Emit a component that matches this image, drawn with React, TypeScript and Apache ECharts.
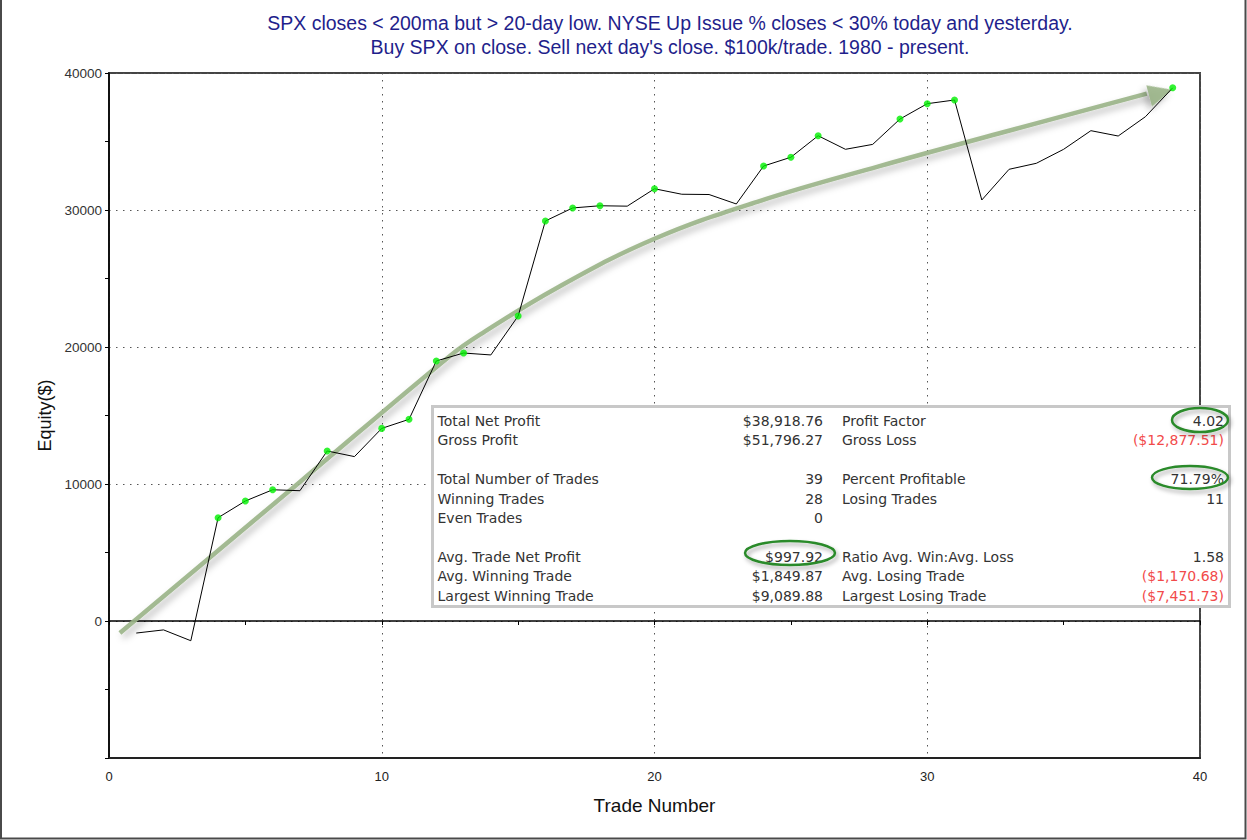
import React, { useEffect, useRef } from 'react';
import * as echarts from 'echarts';

// ---------- data ----------
const titleLine1 = 'SPX closes < 200ma but > 20-day low. NYSE Up Issue % closes < 30% today and yesterday.';
const titleLine2 = "Buy SPX on close. Sell next day's close. $100k/trade. 1980 - present.";

const equity = [
  -880, -650, -1440, 7540, 8760, 9580, 9510, 12410, 12000, 14060,
  14720, 18980, 19560, 19420, 22260, 29200, 30150, 30310, 30280, 31550,
  31150, 31130, 30440, 33210, 33850, 35420, 34430, 34790, 36640, 37760,
  38030, 30730, 32970, 33410, 34430, 35790, 35400, 36810, 38920,
];

// hand-drawn trend arrow (in data units)
const arrowX = [0.4, 7.0, 12.5, 13.6, 16.5, 20.0, 23.85, 28.25, 32.65, 38.05];
const arrowY = [-880, 10150, 19350, 20900, 24400, 27900, 30650, 33200, 35600, 38500];
const arrowHead = [38.56, 38550];

const statLabelsLeft = [
  'Total Net Profit', 'Gross Profit', '',
  'Total Number of Trades', 'Winning Trades', 'Even Trades', '',
  'Avg. Trade Net Profit', 'Avg. Winning Trade', 'Largest Winning Trade',
];
const statValuesLeft = [
  '$38,918.76', '$51,796.27', '',
  '39', '28', '0', '',
  '$997.92', '$1,849.87', '$9,089.88',
];
const statLabelsRight = [
  'Profit Factor', 'Gross Loss', '',
  'Percent Profitable', 'Losing Trades', '', '',
  'Ratio Avg. Win:Avg. Loss', 'Avg. Losing Trade', 'Largest Losing Trade',
];
const statValuesRight = [
  '4.02', '($12,877.51)', '',
  '71.79%', '11', '', '',
  '1.58', '($1,170.68)', '($7,451.73)',
];

// ---------- styling ----------
const AX_FONT = '"Liberation Sans", Arial, sans-serif';
const BOX_FONT = '"DejaVu Sans", Verdana, sans-serif';
const dotted = { color: '#555', width: 1, type: [1.5, 5.5] as number[] };
const arrowColor = '#9ab487';

function buildOption() {
  const lineData = equity.map((v, i) => [i + 1, v]);
  let peak = 0;
  const highs: number[][] = [];
  equity.forEach((v, i) => {
    if (v > peak) {
      peak = v;
      highs.push([i + 1, v]);
    }
  });
  const arrowData = arrowX.map((x, i) => [x, arrowY[i]]);

  const rowY0 = 421;
  const rowStep = 19.4;
  const texts: any[] = [];
  statLabelsLeft.forEach((t, i) => {
    const y = rowY0 + i * rowStep;
    const mk = (text: string, x: number, align: string) => {
      if (!text) return;
      texts.push({
        type: 'text',
        z: 101,
        style: {
          text,
          x,
          y,
          align,
          verticalAlign: 'middle',
          fontFamily: BOX_FONT,
          fontSize: 14,
          fill: text.startsWith('(') ? '#f24a4a' : '#333',
        },
      });
    };
    mk(t, 437.5, 'left');
    mk(statValuesLeft[i], 823, 'right');
    mk(statLabelsRight[i], 842, 'left');
    mk(statValuesRight[i], 1224, 'right');
  });

  const ellipseStyle = {
    fill: 'none',
    stroke: '#2a8a2a',
    lineWidth: 2.5,
    shadowBlur: 4,
    shadowColor: 'rgba(0,0,0,0.35)',
    shadowOffsetX: 2,
    shadowOffsetY: 3,
  };

  return {
    animation: false,
    backgroundColor: '#fff',
    title: {
      text: titleLine1 + '\n' + titleLine2,
      left: 665,
      top: 6,
      textAlign: 'center',
      textStyle: {
        fontFamily: AX_FONT,
        fontSize: 19.5,
        fontWeight: 'normal',
        color: '#1f1f8c',
        lineHeight: 24,
      },
    },
    grid: {
      left: 109,
      right: 47,
      top: 73,
      bottom: 82,
      show: true,
      borderColor: '#444',
      borderWidth: 2,
      backgroundColor: 'transparent',
    },
    xAxis: [
      {
        type: 'value',
        min: 0,
        max: 40,
        interval: 10,
        position: 'bottom',
        axisLine: { show: true, onZero: false, lineStyle: { color: '#222', width: 2 } },
        axisTick: { show: false },
        axisLabel: { fontFamily: AX_FONT, fontSize: 13, color: '#222', margin: 12 },
        splitLine: { show: true, lineStyle: dotted },
        name: 'Trade Number',
        nameLocation: 'middle',
        nameGap: 38,
        nameTextStyle: { fontFamily: AX_FONT, fontSize: 19, color: '#111' },
      },
      {
        type: 'value',
        min: 0,
        max: 40,
        interval: 5,
        position: 'bottom',
        axisLine: { show: true, onZero: true, lineStyle: { color: '#000', width: 1.5 } },
        axisTick: { show: true, length: 4, lineStyle: { color: '#000' } },
        axisLabel: { show: false },
        splitLine: { show: false },
      },
    ],
    yAxis: {
      type: 'value',
      min: -10000,
      max: 40000,
      interval: 10000,
      axisLine: { show: true, onZero: false, lineStyle: { color: '#000', width: 1.5 } },
      axisTick: { show: true, length: 4, lineStyle: { color: '#000' } },
      minorTick: { show: true, splitNumber: 2, length: 4, lineStyle: { color: '#000' } },
      axisLabel: {
        fontFamily: AX_FONT,
        fontSize: 13.5,
        color: '#333',
        margin: 7,
        formatter: (v: number) => (v < 0 ? '' : String(v)),
      },
      splitLine: { show: true, lineStyle: dotted },
      name: 'Equity($)',
      nameLocation: 'middle',
      nameGap: 55,
      nameTextStyle: { fontFamily: AX_FONT, fontSize: 18, color: '#111' },
    },
    series: [
      {
        type: 'line',
        name: 'trend',
        data: arrowData,
        smooth: 0.4,
        symbol: 'none',
        z: 1,
        lineStyle: {
          color: arrowColor,
          width: 4.5,
          opacity: 0.9,
          shadowBlur: 7,
          shadowColor: 'rgba(0,0,0,0.3)',
          shadowOffsetX: 3,
          shadowOffsetY: 4,
        },
        silent: true,
      },
      {
        type: 'scatter',
        name: 'arrowhead',
        data: [arrowHead],
        symbol: 'triangle',
        symbolSize: [22, 24],
        symbolRotate: -75,
        z: 1,
        itemStyle: {
          color: arrowColor,
          opacity: 0.9,
          shadowBlur: 7,
          shadowColor: 'rgba(0,0,0,0.3)',
          shadowOffsetX: 3,
          shadowOffsetY: 4,
        },
        silent: true,
      },
      {
        type: 'line',
        name: 'Equity',
        data: lineData,
        symbol: 'none',
        z: 3,
        lineStyle: { color: '#000', width: 1 },
      },
      {
        type: 'scatter',
        name: 'New high',
        data: highs,
        symbol: 'circle',
        symbolSize: 7,
        z: 4,
        itemStyle: { color: '#00f000' },
      },
    ],
    graphic: [
      {
        type: 'polyline',
        z: 100,
        shape: { points: [[1, 0], [1, 838.5], [1245.5, 838.5], [1245.5, 0]] },
        style: { stroke: '#4a4a4a', lineWidth: 2, fill: 'none' },
      },
      {
        type: 'rect',
        z: 100,
        shape: { x: 432.5, y: 406.5, width: 797, height: 200 },
        style: { fill: '#fff', stroke: '#c8c8c8', lineWidth: 3 },
      },
      ...texts,
      { type: 'ellipse', z: 102, shape: { cx: 1200, cy: 420, rx: 28, ry: 12 }, style: ellipseStyle },
      { type: 'ellipse', z: 102, shape: { cx: 1190, cy: 477.5, rx: 38, ry: 11.5 }, style: ellipseStyle },
      { type: 'ellipse', z: 102, shape: { cx: 790, cy: 553, rx: 45, ry: 12 }, style: ellipseStyle },
    ],
  };
}

export default function App() {
  const ref = useRef<HTMLDivElement>(null);
  useEffect(() => {
    if (!ref.current) return;
    const chart = echarts.init(ref.current, null, { renderer: 'svg' });
    chart.setOption(buildOption() as any);
    return () => chart.dispose();
  }, []);
  return (
    <div
      ref={ref}
      style={{ position: 'absolute', left: 0, top: 0, width: 1247, height: 840, background: '#fff' }}
    />
  );
}
